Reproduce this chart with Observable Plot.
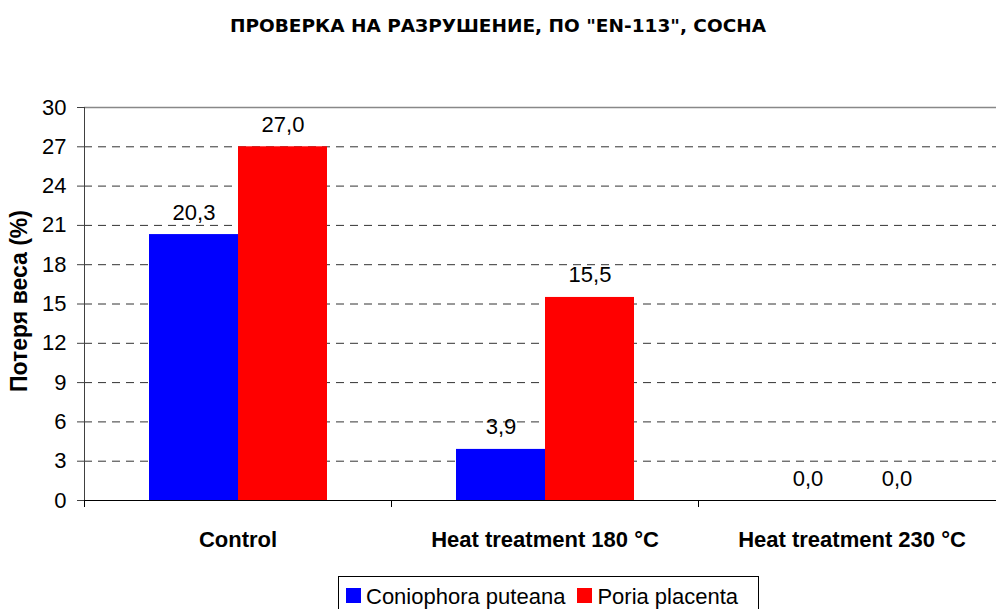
<!DOCTYPE html>
<html><head><meta charset="utf-8">
<script src="https://cdn.jsdelivr.net/npm/d3@7"></script>
<script src="https://cdn.jsdelivr.net/npm/@observablehq/plot@0.6"></script>
<style>
html,body{margin:0;padding:0;background:#fff;overflow:hidden;width:996px;height:609px;position:relative}
#title{position:absolute;left:0;top:0;width:996px;height:54px;line-height:52px;text-align:center;font-family:"DejaVu Sans",sans-serif;font-weight:bold;font-size:18.5px;color:#000;white-space:nowrap}
#chart{position:absolute;left:0;top:54px}
#chart svg{max-width:none !important}
#legend{position:absolute;left:338px;top:576px;border:1px solid #000;padding:8px 8px 8px 7px;font-family:"Liberation Sans",Arial,sans-serif;font-size:22px;white-space:nowrap;line-height:24px;background:#fff}
#legend span.sw{display:inline-block;width:15px;height:15px;margin-right:5px;vertical-align:1px}
#legend span.item{margin-right:12px}
</style></head><body>
<div id="title"></div>
<div id="chart"></div>
<div id="legend"></div>
<script>
const titleText = 'ПРОВЕРКА НА РАЗРУШЕНИЕ, ПО "EN-113", СОСНА';
const yLabel = "Потеря веса (%)";
const categories = ["Control", "Heat treatment 180 °C", "Heat treatment 230 °C"];
const series = ["Coniophora puteana", "Poria placenta"];
const coniophora = [20.3, 3.9, 0.0];
const poria = [27.0, 15.5, 0.0];
const yTicks = [0, 3, 6, 9, 12, 15, 18, 21, 24, 27, 30];
const colors = ["#0000ff", "#ff0000"];

const values = [coniophora, poria];
const data = categories.flatMap((c, i) => series.map((s, j) => ({category: c, series: s, value: values[j][i]})));

const plot = Plot.plot({
  width: 1006,
  height: 522,
  marginLeft: 84,
  marginRight: 1,
  marginTop: 53,
  marginBottom: 76,
  style: {fontFamily: '"Liberation Sans", Arial, sans-serif', fontSize: "22px", overflow: "visible", background: "#fff"},
  fx: {domain: categories, padding: 0, label: null, axis: null},
  x: {domain: series, paddingInner: 0, paddingOuter: 0.715, axis: null},
  y: {domain: [0, 30], axis: null},
  color: {domain: series, range: colors},
  marks: [
    Plot.ruleY(yTicks.filter(t => t > 0 && t < 30), {stroke: "#333", strokeDasharray: "8,6", strokeWidth: 1}),
    Plot.ruleY([30], {stroke: "#888", strokeWidth: 1.5}),
    Plot.barY(data, {fx: "category", x: "series", y: "value", fill: "series"}),
    Plot.text(data, {fx: "category", x: "series", y: "value", text: d => d.value.toFixed(1).replace(".", ","), lineAnchor: "bottom", dy: -15, fontSize: 22, fill: "#000"}),
    Plot.ruleY([0], {stroke: "#000", strokeWidth: 1}),
    Plot.frame({anchor: "left", facet: "super", stroke: "#404040"}),
    Plot.axisY({ticks: yTicks, tickSize: 7, tickPadding: 11, label: null, fontSize: 22, stroke: "#404040", color: "#000"}),
    Plot.text([yLabel], {frameAnchor: "left", textAnchor: "middle", rotate: -90, dx: -65, dy: -3, fontWeight: "bold", fontSize: 23, facet: "super", fill: "#000"}),
    Plot.axisFx({anchor: "bottom", tickSize: 0, tickPadding: 31, fontWeight: "bold", fontSize: 22, label: null, color: "#000"}),
    Plot.axisFx({anchor: "bottom", tickSize: 7, text: null, label: null, stroke: "#000"})
  ]
});
document.getElementById("chart").appendChild(plot);

// move category ticks from band centres to band boundaries (Excel style)
const bw = plot.scale("fx").bandwidth;
d3.select(plot).selectAll('g[aria-label="fx-axis tick"]').each(function () {
  const t = this.getAttribute("transform") || "";
  this.setAttribute("transform", `translate(${-bw / 2},0) ${t}`);
});

// title
document.getElementById("title").textContent = titleText;

// legend
const legend = d3.select("#legend");
series.forEach((s, i) => {
  const item = legend.append("span").attr("class", "item");
  item.append("span").attr("class", "sw").style("background", colors[i]);
  item.append("span").text(s);
});
</script>
</body></html>
